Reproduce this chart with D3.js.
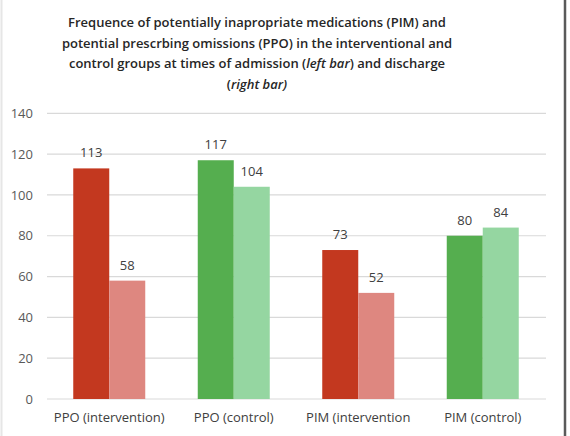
<!DOCTYPE html>
<html>
<head>
<meta charset="utf-8">
<script src="https://cdn.jsdelivr.net/npm/d3@7"></script>
<style>
  body { margin: 0; background: #fff; }
  svg text { font-family: "Open Sans", sans-serif; }
</style>
</head>
<body>
<svg id="chart" width="570" height="436"></svg>
<script>
// chart values
const categories = ["PPO (intervention)", "PPO (control)", "PIM (intervention", "PIM (control)"];
const admission = [113, 117, 73, 80];   // left bar
const discharge = [58, 104, 52, 84];    // right bar
const groupKind = ["intervention", "control", "intervention", "control"];
const yTicks = [0, 20, 40, 60, 80, 100, 120, 140];
const titleLines = [
    [["Frequence of potentially inapropriate medications (PIM) and", false]],
    [["potential prescrbing omissions (PPO) in the interventional and", false]],
    [["control groups at times of admission (", false], ["left bar", true], [") and discharge", false]],
    [["(", false], ["right bar)", true]]
];

const colors = {
    intervention: ["#c3381f", "#de8780"],
    control: ["#55ae4f", "#95d6a1"]
};

const svg = d3.select("#chart");
const W = 570, H = 436;

// frame
svg.append("rect").attr("x", 0).attr("y", 0).attr("width", W).attr("height", H).attr("fill", "#fff");
svg.append("line").attr("x1", 1.5).attr("x2", 1.5).attr("y1", 0).attr("y2", H)
    .attr("stroke", "#e6e6e6").attr("stroke-width", 2);
svg.append("line").attr("x1", 565).attr("x2", 565).attr("y1", 0).attr("y2", H)
    .attr("stroke", "#5a5a5a").attr("stroke-width", 2.5);

// title
const title = svg.append("text")
    .attr("text-anchor", "middle")
    .style("font-size", "13px")
    .style("font-weight", 600)
    .attr("fill", "#262626");
titleLines.forEach((parts, i) => {
    const line = title.append("tspan").attr("x", 257).attr("y", 27 + i * 20.5);
    parts.forEach(p => {
        line.append("tspan").text(p[0]).style("font-style", p[1] ? "italic" : "normal");
    });
});

const x = d3.scaleBand().domain(categories).range([47, 545]).padding(0);
const y = d3.scaleLinear().domain([0, 140]).range([399, 113.3]);

// grid
svg.append("g").selectAll("line").data(yTicks).join("line")
    .attr("x1", 47).attr("x2", 546)
    .attr("y1", d => y(d)).attr("y2", d => y(d))
    .attr("stroke", "#d9d9d9").attr("stroke-width", 1.2);

// y axis labels
const yAxis = svg.append("g").attr("transform", "translate(40,0)")
    .call(d3.axisLeft(y).tickValues(yTicks).tickSize(0).tickPadding(7));
yAxis.select(".domain").remove();
yAxis.selectAll("text").style("font-size", "13px").attr("fill", "#595959")
    .style("font-family", "'Open Sans', sans-serif");

// x axis labels
const xAxis = svg.append("g").attr("transform", "translate(0,399)")
    .call(d3.axisBottom(x).tickSize(0).tickPadding(14));
xAxis.select(".domain").remove();
xAxis.selectAll("text").style("font-size", "13px").attr("fill", "#404040")
    .style("font-family", "'Open Sans', sans-serif");

const barW = 36;
const rows = categories.map((c, i) => ({ cat: c, vals: [admission[i], discharge[i]], kind: groupKind[i] }));

const groups = svg.append("g").selectAll("g").data(rows).join("g")
    .attr("transform", d => "translate(" + (x(d.cat) + x.bandwidth() / 2 - barW) + ",0)");

groups.selectAll("rect").data(d => d.vals.map((v, j) => ({ v: v, j: j, kind: d.kind }))).join("rect")
    .attr("x", d => d.j * barW)
    .attr("y", d => y(d.v))
    .attr("width", barW)
    .attr("height", d => y(0) - y(d.v))
    .attr("fill", d => colors[d.kind][d.j]);

groups.selectAll("text.val").data(d => d.vals.map((v, j) => ({ v: v, j: j }))).join("text")
    .attr("class", "val")
    .attr("x", d => d.j * barW + barW / 2)
    .attr("y", d => y(d.v) - 11)
    .attr("text-anchor", "middle")
    .style("font-size", "13px")
    .attr("fill", "#404040")
    .text(d => d.v);
</script>
</body>
</html>
